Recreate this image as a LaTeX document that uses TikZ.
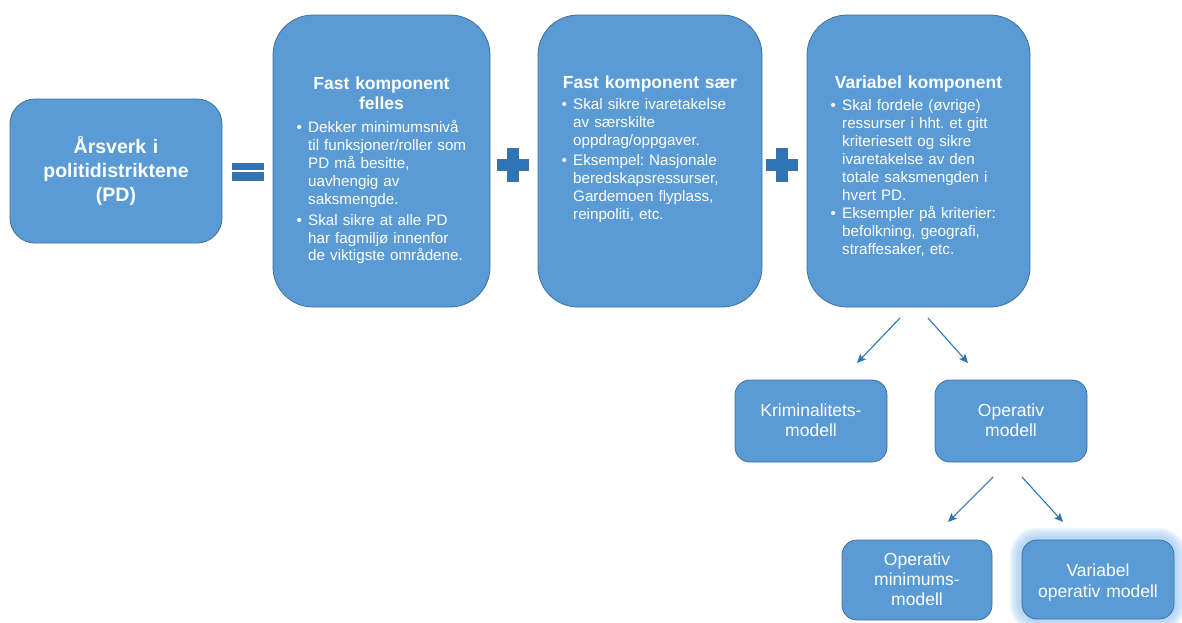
\documentclass[tikz,border=0pt]{standalone}
\usepackage{fontspec}
\setmainfont{Liberation Sans}
\usetikzlibrary{arrows.meta}
\definecolor{boxfill}{HTML}{5B9BD5}
\definecolor{boxline}{HTML}{41719C}
\definecolor{signblue}{HTML}{2E75B6}
\definecolor{arrowblue}{HTML}{2E75B6}
\definecolor{glowblue}{HTML}{9DC8F0}
\frenchspacing
\newcommand{\fTitle}{\fontsize{19.5}{24}\selectfont\bfseries}
\newcommand{\fHead}{\fontsize{17.5}{20.5}\selectfont\bfseries}
\newcommand{\fBody}{\fontsize{15.2}{17.95}\selectfont}
\newcommand{\fSmall}{\fontsize{17.5}{20.3}\selectfont}
\newcommand{\bitem}[1]{\noindent\makebox[11.5pt][l]{\textbullet}\parbox[t]{185pt}{\raggedright\frenchspacing #1}\par}
\newcommand{\bulgap}{\vspace{5.4pt}}
\begin{document}
\begin{tikzpicture}[x=1pt,y=-1pt,
  box/.style={draw=boxline, line width=0.8pt, fill=boxfill, inner sep=0pt},
  bigbox/.style={box, rounded corners=40pt},
  titlebox/.style={box, rounded corners=25pt},
  smallbox/.style={box, rounded corners=15pt},
  txt/.style={text=white, inner sep=0pt, anchor=base, text width=210pt, align=center},
  head/.style={txt, font=\fHead},
  body/.style={text=white, inner sep=0pt, anchor=base west, text width=200pt, align=left, font=\fBody},
  small/.style={txt, font=\fSmall},
  sign/.style={fill=signblue, draw=boxline, line width=0.4pt},
  conn/.style={draw=arrowblue, line width=1.1pt, -{Stealth[length=9pt,width=8pt,inset=2pt]}},
]
\useasboundingbox (0,0) rectangle (1182,622);

% main boxes
\node[titlebox, minimum width=212pt, minimum height=144pt] (pd) at (116,171) {};
\node[bigbox, minimum width=217pt, minimum height=292pt] (ff) at (381.5,161) {};
\node[bigbox, minimum width=224pt, minimum height=292pt] (fs) at (650,161) {};
\node[bigbox, minimum width=223pt, minimum height=292pt] (vk) at (918.5,161) {};

% title text
\node[txt, font=\fTitle] (pdt) at (116,153.3) {Årsverk i\\politidistriktene\\(PD)};

% box 2
\node[head] (ffh) at (381.5,89) {Fast komponent\\felles};
\node[body] (ffb) at (296.5,132.7) {\bitem{Dekker minimumsnivå\\ til funksjoner/roller som\\ PD må besitte,\\ uavhengig av\\ saksmengde.}\bulgap
\bitem{Skal sikre at alle PD\\ har fagmiljø innenfor\\ de viktigste områdene.}};

% box 3
\node[head] (fsh) at (650,88.5) {Fast komponent sær};
\node[body] (fsb) at (561.5,109.3) {\bitem{Skal sikre ivaretakelse\\ av særskilte\\ oppdrag/oppgaver.}\bulgap
\bitem{Eksempel: Nasjonale\\ beredskapsressurser,\\ Gardemoen flyplass,\\ reinpoliti, etc.}};

% box 4
\node[head] (vkh) at (918.5,88.5) {Variabel komponent};
\node[body] (vkb) at (830.5,110.3) {\bitem{Skal fordele (øvrige)\\ ressurser i hht. et gitt\\ kriteriesett og sikre\\ ivaretakelse av den\\ totale saksmengden i\\ hvert PD.}\bulgap
\bitem{Eksempler på kriterier:\\ befolkning, geografi,\\ straffesaker, etc.}};

% equals sign
\fill[sign] (232.3,162.7) rectangle (263.3,169.6);
\fill[sign] (232.3,172.6) rectangle (263.3,180);

% plus signs
\fill[sign] (507,148) -- (518,148) -- (518,159) -- (528,159) -- (528,170) -- (518,170) -- (518,181) -- (507,181) -- (507,170) -- (497,170) -- (497,159) -- (507,159) -- cycle;
\fill[sign] (776,148) -- (787,148) -- (787,159) -- (797,159) -- (797,170) -- (787,170) -- (787,181) -- (776,181) -- (776,170) -- (766,170) -- (766,159) -- (776,159) -- cycle;

% second level
\node[smallbox, minimum width=152pt, minimum height=82pt] (krim) at (811,421) {};
\node[small] (krimt) at (811,416) {Kriminalitets-\\modell};
\node[smallbox, minimum width=152pt, minimum height=82pt] (oper) at (1011,421) {};
\node[small] (opert) at (1011,416) {Operativ\\modell};

% third level
\node[smallbox, minimum width=150pt, minimum height=80pt] (omin) at (917,580) {};
\node[small] (omint) at (917,565) {Operativ\\minimums-\\modell};

% glow
\foreach \g in {12,10,8,6,4,2}{
  \fill[glowblue, opacity=0.2, rounded corners=15pt+\g pt] (1022-\g,540-\g) rectangle (1174+\g,619+\g);
}
\node[smallbox, minimum width=152pt, minimum height=79pt] (vom) at (1098,579.5) {};
\node[small] (vomt) at (1098,576.7) {Variabel\\operativ modell};

% connectors
\coordinate (s1) at (900,318);
\coordinate (e1) at (857,363);
\coordinate (s2) at (928,318);
\coordinate (e2) at (968,363);
\coordinate (s3) at (993,477);
\coordinate (e3) at (948,522);
\coordinate (s4) at (1022,477);
\coordinate (e4) at (1063,522);
\draw[conn] (s1) -- (e1);
\draw[conn] (s2) -- (e2);
\draw[conn] (s3) -- (e3);
\draw[conn] (s4) -- (e4);
\end{tikzpicture}
\end{document}
